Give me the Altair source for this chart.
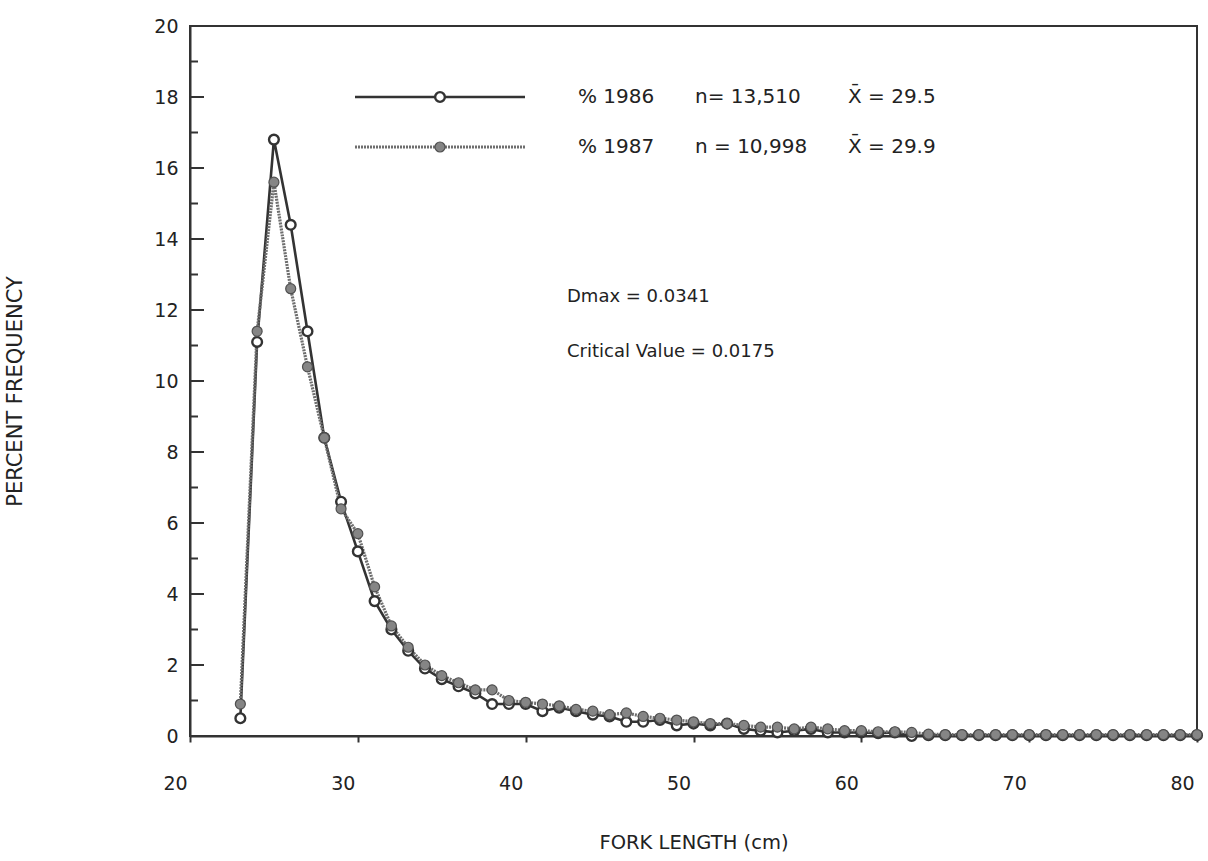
import altair as alt
import pandas as pd

# ---- data ----
fork_length = list(range(23, 81))

pct_1986 = [0.5, 11.1, 16.8, 14.4, 11.4, 8.4, 6.6, 5.2, 3.8, 3.0,
            2.4, 1.9, 1.6, 1.4, 1.2, 0.9, 0.9, 0.9, 0.7, 0.8,
            0.7, 0.6, 0.55, 0.4, 0.4, 0.45, 0.3, 0.35, 0.3, 0.35,
            0.2, 0.15, 0.1, 0.15, 0.2, 0.1, 0.1, 0.1, 0.08, 0.1,
            0.0, 0.02, 0.02, 0.02, 0.02, 0.02, 0.02, 0.02, 0.02, 0.02,
            0.02, 0.02, 0.02, 0.02, 0.02, 0.02, 0.02, 0.02]

pct_1987 = [0.9, 11.4, 15.6, 12.6, 10.4, 8.4, 6.4, 5.7, 4.2, 3.1,
            2.5, 2.0, 1.7, 1.5, 1.3, 1.3, 1.0, 0.95, 0.9, 0.85,
            0.75, 0.7, 0.6, 0.65, 0.55, 0.5, 0.45, 0.4, 0.35, 0.35,
            0.3, 0.25, 0.25, 0.2, 0.25, 0.2, 0.15, 0.15, 0.12, 0.12,
            0.1, 0.05, 0.04, 0.04, 0.04, 0.04, 0.04, 0.04, 0.04, 0.04,
            0.04, 0.04, 0.04, 0.04, 0.04, 0.04, 0.04, 0.04]

y_major_ticks = [0, 2, 4, 6, 8, 10, 12, 14, 16, 18, 20]
y_minor_ticks = [1, 3, 5, 7, 9, 11, 13, 15, 17, 19]
x_ticks = [20, 30, 40, 50, 60, 70, 80]

legend_1986 = ["% 1986", "n= 13,510", "X\u0304 = 29.5"]
legend_1987 = ["% 1987", "n = 10,998", "X\u0304 = 29.9"]
stats_text = ["Dmax = 0.0341", "Critical Value = 0.0175"]

df86 = pd.DataFrame({"x": fork_length, "y": pct_1986})
df87 = pd.DataFrame({"x": fork_length, "y": pct_1987})

FONT = "DejaVu Sans"
DARK = "#333333"
GREY = "#6e6e6e"
PFILL = "#858585"

xscale = alt.Scale(domain=[20, 80], nice=False, zero=False)
yscale = alt.Scale(domain=[0, 20], nice=False)

xenc = alt.X("x:Q", scale=xscale,
             axis=alt.Axis(values=x_ticks, title="FORK LENGTH (cm)", grid=False,
                           tickSize=6, tickWidth=2, tickColor=DARK,
                           domainColor=DARK, domainWidth=2,
                           labelFont=FONT, labelFontSize=19, labelColor="#222",
                           labelFlush=False, labelOffset=-15,
                           labelPadding=32, titleFont=FONT, titleFontSize=19.5,
                           titleFontWeight="normal", titleColor="#222",
                           titlePadding=40))
yenc = alt.Y("y:Q", scale=yscale,
             axis=alt.Axis(values=y_major_ticks, title="PERCENT FREQUENCY", grid=False,
                           tickSize=0, domainColor=DARK, domainWidth=2,
                           labelFont=FONT, labelFontSize=19, labelColor="#222",
                           labelPadding=12, titleFont=FONT, titleFontSize=21,
                           titleFontWeight="normal", titleColor="#222",
                           titleX=-165, titleY=365, titleAngle=-90))

line86 = alt.Chart(df86).mark_line(color=DARK, strokeWidth=2.6).encode(x=xenc, y=yenc)
line87 = alt.Chart(df87).mark_line(color=GREY, strokeWidth=3.2, strokeDash=[2, 1]).encode(x="x:Q", y="y:Q")
pts86 = alt.Chart(df86).mark_point(shape="circle", filled=True, fill="white", stroke=DARK,
                                   strokeWidth=2.4, size=95, opacity=1).encode(x="x:Q", y="y:Q")
pts87 = alt.Chart(df87).mark_point(shape="circle", filled=True, fill=PFILL, stroke="#505050",
                                   strokeWidth=1.2, size=100, opacity=1).encode(x="x:Q", y="y:Q")

ymaj = pd.DataFrame({"v": y_major_ticks})
ymin = pd.DataFrame({"v": y_minor_ticks})
ticks_major = alt.Chart(ymaj).mark_rule(color=DARK, strokeWidth=2).encode(
    y=alt.Y("v:Q", scale=yscale), x=alt.value(0), x2=alt.value(14))
ticks_minor = alt.Chart(ymin).mark_rule(color=DARK, strokeWidth=2).encode(
    y=alt.Y("v:Q", scale=yscale), x=alt.value(0), x2=alt.value(8))

# legend
one = pd.DataFrame({"a": [0]})
leg_line1 = alt.Chart(one).mark_rule(color=DARK, strokeWidth=2.6).encode(
    x=alt.value(165), x2=alt.value(335), y=alt.value(71))
leg_line2 = alt.Chart(one).mark_rule(color=GREY, strokeWidth=3.2, strokeDash=[2, 1]).encode(
    x=alt.value(165), x2=alt.value(335), y=alt.value(121))
leg_pt1 = alt.Chart(one).mark_point(shape="circle", filled=True, fill="white", stroke=DARK,
                                    strokeWidth=2.4, size=95, opacity=1).encode(
    x=alt.value(250), y=alt.value(71))
leg_pt2 = alt.Chart(one).mark_point(shape="circle", filled=True, fill=PFILL, stroke="#505050",
                                    strokeWidth=1.2, size=100, opacity=1).encode(
    x=alt.value(250), y=alt.value(121))

text_layers = []
col_x = [388, 505, 658]
for i in range(3):
    for lab, yy in ((legend_1986[i], 71), (legend_1987[i], 121)):
        text_layers.append(
            alt.Chart(pd.DataFrame({"t": [lab]})).mark_text(
                align="left", baseline="middle", font=FONT, fontSize=20, color="#222").encode(
                text="t:N", x=alt.value(col_x[i]), y=alt.value(yy)))
for lab, yy in zip(stats_text, [271, 326]):
    text_layers.append(
        alt.Chart(pd.DataFrame({"t": [lab]})).mark_text(
            align="left", baseline="middle", font=FONT, fontSize=18, color="#222").encode(
            text="t:N", x=alt.value(377), y=alt.value(yy)))

chart = alt.layer(
    line86, line87, pts86, pts87, ticks_major, ticks_minor,
    leg_line1, leg_line2, leg_pt1, leg_pt2, *text_layers
).properties(
    width=1007, height=710,
    padding={"left": 190, "top": 26, "right": 11, "bottom": 125},
    autosize=alt.AutoSizeParams(type="none"),
    background="white",
).configure_view(stroke=DARK, strokeWidth=2)

chart.save("out.html", embed_options={"renderer": "svg", "actions": False})
